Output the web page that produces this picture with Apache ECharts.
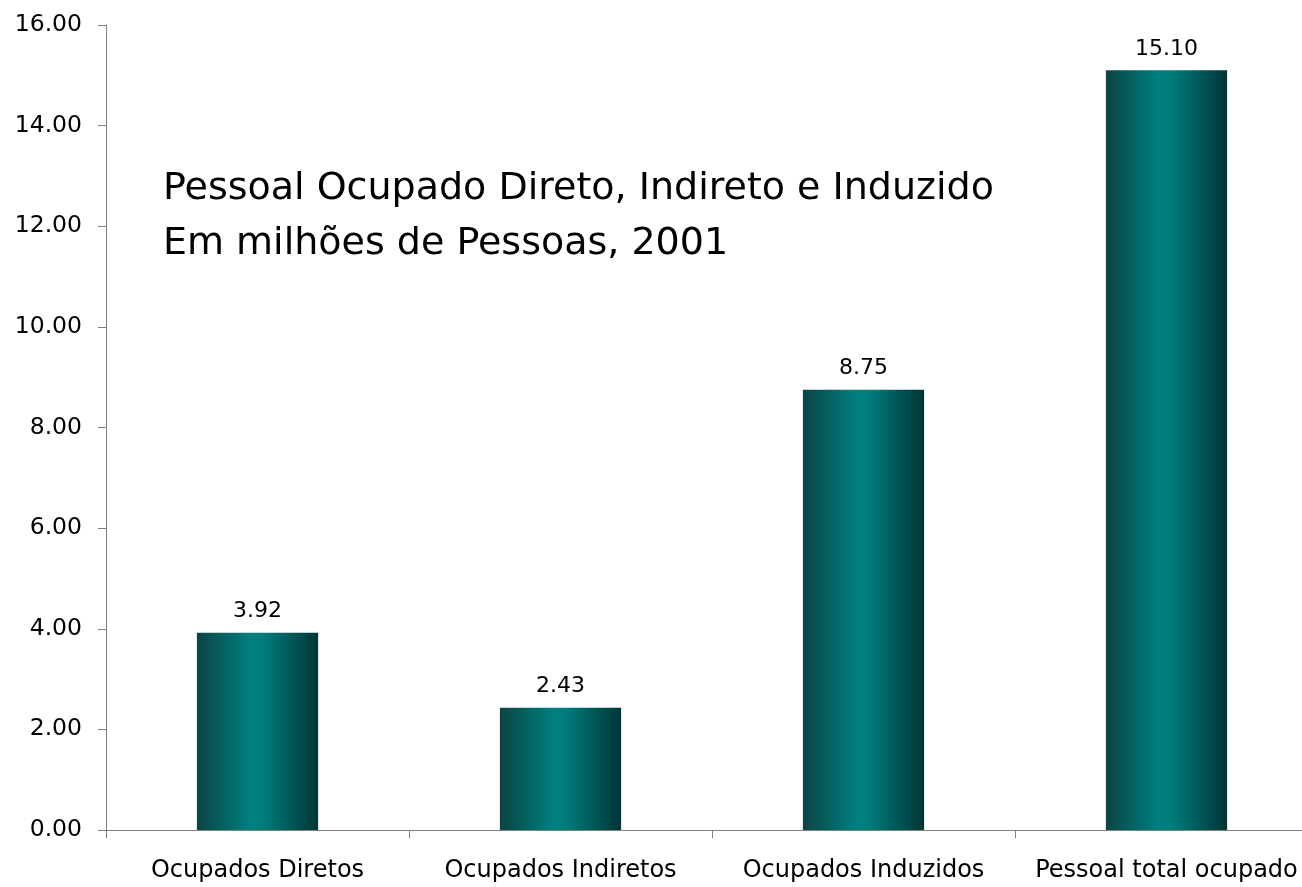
<!DOCTYPE html>
<html>
<head>
<meta charset="utf-8">
<script src="https://cdn.jsdelivr.net/npm/echarts@6/dist/echarts.min.js"></script>
<style>
html,body{margin:0;padding:0;background:#fff;overflow:hidden;width:1302px;height:887px;}
#chart{width:1320px;height:887px;}
</style>
</head>
<body>
<div id="chart"></div>
<script>
const categories = ['Ocupados Diretos', 'Ocupados Indiretos', 'Ocupados Induzidos', 'Pessoal total ocupado'];
const values = [3.92, 2.43, 8.75, 15.10];
const titleLines = ['Pessoal Ocupado Direto, Indireto e Induzido', 'Em milhões de Pessoas, 2001'];
const yMin = 0, yMax = 16, yInterval = 2;

const FONT = 'DejaVu Sans';
const chart = echarts.init(document.getElementById('chart'), null, {renderer: 'canvas'});
const grad = new echarts.graphic.LinearGradient(0, 0, 1, 0, [
  {offset: 0, color: '#0c4444'},
  {offset: 0.45, color: '#008080'},
  {offset: 0.55, color: '#007b7b'},
  {offset: 1, color: '#003535'}
]);
chart.setOption({
  animation: false,
  backgroundColor: '#ffffff',
  textStyle: {fontFamily: FONT},
  title: {
    text: titleLines.join('\n'),
    left: 158, top: 157,
    textStyle: {fontFamily: FONT, fontSize: 38, fontWeight: 'normal', color: '#000', lineHeight: 55}
  },
  grid: {left: 106, top: 25, right: 2, bottom: 57, containLabel: false},
  xAxis: {
    type: 'category',
    data: categories,
    axisLine: {lineStyle: {color: '#808080', width: 1}},
    axisTick: {show: true, length: 8, lineStyle: {color: '#808080'}, alignWithLabel: false},
    axisLabel: {color: '#000', fontSize: 24, fontFamily: FONT, margin: 29, interval: 0}
  },
  yAxis: {
    type: 'value',
    min: yMin, max: yMax, interval: yInterval,
    axisLine: {show: true, lineStyle: {color: '#808080', width: 1}},
    axisTick: {show: true, length: 8, lineStyle: {color: '#808080'}},
    splitLine: {show: false},
    axisLabel: {color: '#000', fontSize: 23.5, fontFamily: FONT, margin: 24,
      formatter: v => v.toFixed(2)}
  },
  series: [{
    type: 'bar',
    data: values,
    barWidth: '40%',
    itemStyle: {color: grad},
    label: {show: true, position: 'top', distance: 10, color: '#000', fontSize: 22, fontFamily: FONT,
      formatter: p => p.value.toFixed(2)}
  }]
});
</script>
</body>
</html>
